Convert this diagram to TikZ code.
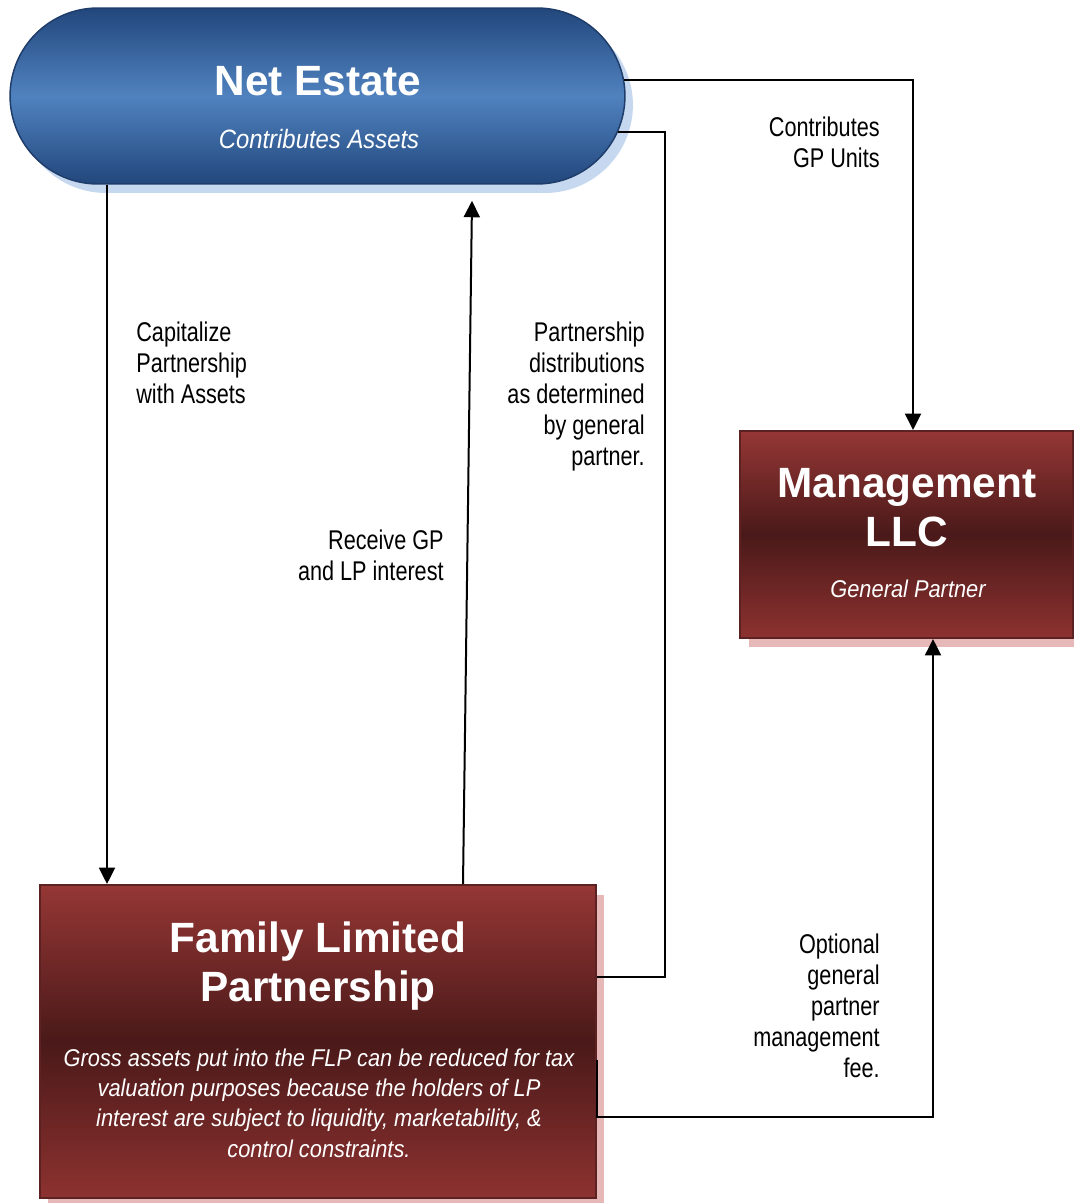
\documentclass[tikz,border=0pt]{standalone}
\usepackage{fontspec}
\setmainfont{Liberation Sans}
\newfontfamily\labelfont[FakeStretch=0.9]{Liberation Sans}
\newfontfamily\connfont[FakeStretch=0.8]{Liberation Sans}
\usetikzlibrary{shapes.misc,arrows.meta,calc}

\definecolor{bluedark}{HTML}{22477C}
\definecolor{bluemid}{HTML}{5082BF}
\definecolor{blueborder}{HTML}{1F3D6B}
\definecolor{blueshadow}{HTML}{C6D8EF}
\definecolor{redtop}{HTML}{953735}
\definecolor{reddark}{HTML}{4A1919}
\definecolor{redbottom}{HTML}{8D3230}
\definecolor{redborder}{HTML}{5C2221}
\definecolor{redshadow}{HTML}{E6B9B8}

\tikzset{
  conn/.style={draw=black, line width=0.04cm},
  tip/.style={-{Triangle[length=0.33cm,width=0.32cm]}},
  lbl/.style={inner sep=0pt, text=black,
    font=\connfont\fontsize{15.4pt}{17.6pt}\selectfont},
  bluebox/.style={rounded rectangle, inner sep=0pt, draw=blueborder,
    line width=0.03cm, top color=bluedark, bottom color=bluedark,
    middle color=bluemid, minimum width=12.3cm, minimum height=3.52cm},
  redbox/.style={rectangle, inner sep=0pt, draw=redborder,
    line width=0.04cm, top color=redtop, bottom color=redbottom,
    middle color=reddark},
  title/.style={inner sep=0pt, text=white, align=center,
    font=\bfseries\fontsize{24.1pt}{28.2pt}\selectfont},
  subtitle/.style={inner sep=0pt, text=white, align=center,
    font=\labelfont\itshape\fontsize{13.8pt}{17.3pt}\selectfont},
}

\begin{document}
\begin{tikzpicture}[x=0.02cm, y=-0.02cm]
\useasboundingbox (0,0) rectangle (1074,1203);

% drop shadows
\node[rounded rectangle, inner sep=0pt, fill=blueshadow,
      minimum width=12.3cm, minimum height=3.52cm] (netshade) at (325.5,105) {};
\node[rectangle, inner sep=0pt, fill=redshadow,
      minimum width=11.12cm, minimum height=6.26cm] (flpshade) at (326,1051) {};
\node[rectangle, inner sep=0pt, fill=redshadow,
      minimum width=6.66cm, minimum height=4.14cm] (llcshade) at (915.5,544) {};

% main shapes
\node[bluebox] (net) at (317.5,96) {};
\node[redbox, minimum width=11.12cm, minimum height=6.26cm] (flp) at (318,1041.5) {};
\node[redbox, minimum width=6.66cm, minimum height=4.14cm] (llc) at (906.5,534.5) {};

% texts inside the shapes
\node[title] (nettitle) at (318,81) {Net Estate};
\node[subtitle, font=\labelfont\itshape\fontsize{15.1pt}{17.6pt}\selectfont]
  (netsub) at (319,139) {Contributes Assets};

\node[title, font=\bfseries\fontsize{24.1pt}{28.4pt}\selectfont]
  (flptitle) at (318,966) {Family Limited\\Partnership};
\node[subtitle] (flpbody) at (319,1103)
  {Gross assets put into the FLP can be reduced for tax\\
   valuation purposes because the holders of LP\\
   interest are subject to liquidity, marketability, \&\\
   control constraints.};

\node[title, font=\bfseries\fontsize{24.1pt}{27.9pt}\selectfont]
  (llctitle) at (907,508) {Management\\LLC};
\node[subtitle] (llcsub) at (908,589) {General Partner};

% connector labels
\node[lbl, anchor=west, align=left] (capl) at (136,363)
  {Capitalize\\Partnership\\with Assets};
\node[lbl, anchor=east, align=right] (gpl) at (880,142)
  {Contributes\\GP Units};
\node[lbl, anchor=east, align=right] (distl) at (645,396.5)
  {Partnership\\distributions\\as determined\\by general\\partner.};
\node[lbl, anchor=east, align=right] (recl) at (444,555)
  {Receive GP\\and LP interest};
\node[lbl, anchor=east, align=right] (feel) at (880,1006)
  {Optional\\general\\partner\\management\\fee.};

% routing columns
\coordinate (cap) at (107,0);
\coordinate (up1) at (463,0);
\coordinate (up2) at (472,0);
\coordinate (gp) at (913,0);
\coordinate (dist) at (665,0);
\coordinate (fee) at (933,1117);

% connectors
\draw[conn, tip] (cap |- net.south) -- (cap |- flp.north);
\draw[conn, tip] (up1 |- flp.north) -- ($(up2 |- net.south)+(0,16)$);
\draw[conn, tip] ($(net.east)+(-1.5,-15.5)$) -| (gp |- llc.north);
\draw[conn] ($(net.east)+(-7.5,36)$) -| ($(dist |- flp.east)+(0,-64.5)$)
  -- ($(flp.east)+(0,-64.5)$);
\draw[conn, tip] ($(flp.east)+(0,18.5)$) |- (fee) -- (fee |- llc.south);
\end{tikzpicture}
\end{document}
